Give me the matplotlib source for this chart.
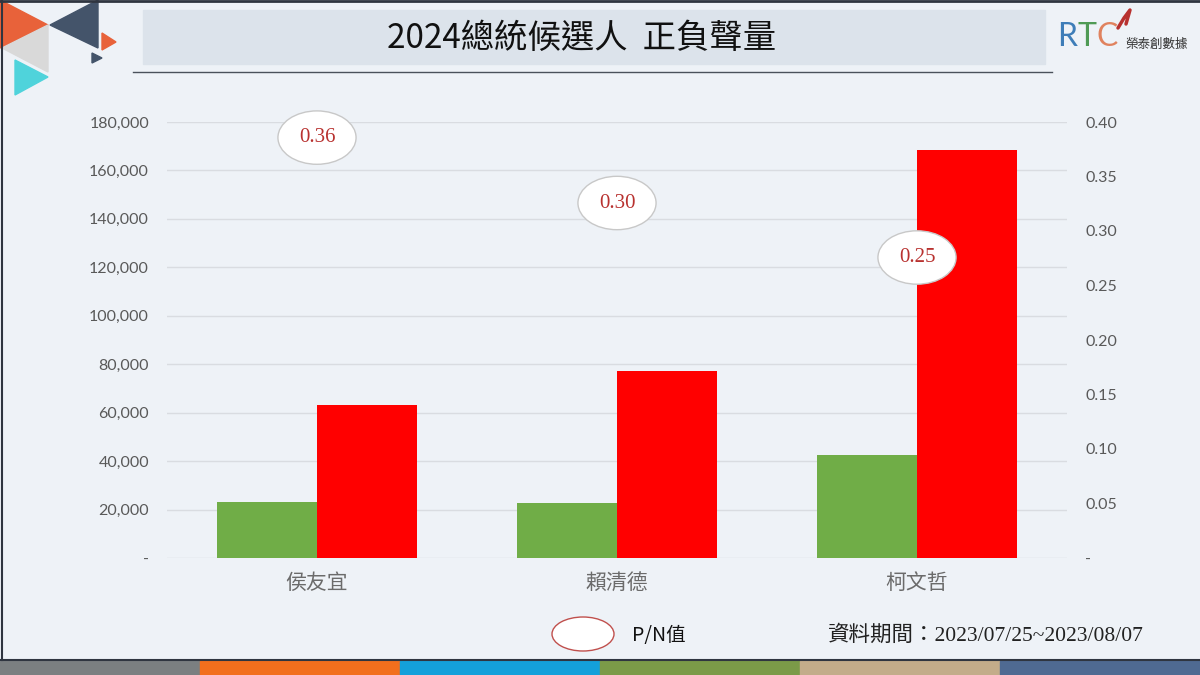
import numpy as np
import matplotlib.pyplot as plt
from matplotlib.patches import Rectangle, Polygon, Ellipse
from matplotlib.ticker import FuncFormatter

# --- data ---
candidates = ['侯友宜', '賴清德', '柯文哲']
positive = [23100, 22700, 42500]
negative = [63200, 77200, 168400]
pn_ratio = [0.36, 0.30, 0.25]

BG = '#EEF2F7'
CJK = ['Noto Sans CJK TC', 'DejaVu Sans']

fig = plt.figure(figsize=(12, 6.75), dpi=100, facecolor=BG)

# --- chart ---
ax = fig.add_axes([167/1200, 1-558/675, 900/1200, 436/675])
ax.set_facecolor('none')
x = np.arange(len(candidates))
w = 1/3
ax.bar(x - w/2, positive, w, color='#70AD47', zorder=3)
ax.bar(x + w/2, negative, w, color='#FF0000', zorder=3)
ax.set_xlim(-0.5, 2.5)
ax.set_ylim(0, 180000)
ax.set_yticks(np.arange(0, 180001, 20000))
ax.yaxis.set_major_formatter(FuncFormatter(lambda v, p: '-' if v == 0 else f'{v:,.0f}'))
ax.grid(axis='y', color='#D9DCE1', lw=1, zorder=0)
for s in ax.spines.values():
    s.set_visible(False)
ax.tick_params(axis='y', length=0, pad=13, labelsize=11.5, labelcolor='#595959')
ax.set_xticks(x)
ax.set_xticklabels(candidates, family=CJK, fontsize=15, color='#6B6B6B', weight='light')
ax.tick_params(axis='x', length=0, pad=10)
for t in ax.get_yticklabels():
    t.set_family('Lato')

ax2 = ax.twinx()
ax2.set_ylim(0, 0.40)
ax2.set_yticks(np.arange(0, 0.401, 0.05))
ax2.yaxis.set_major_formatter(FuncFormatter(lambda v, p: '-' if abs(v) < 1e-9 else f'{v:.2f}'))
ax2.tick_params(axis='y', length=0, pad=13, labelsize=11.5, labelcolor='#595959')
for t in ax2.get_yticklabels():
    t.set_family('Lato')
for s in ax2.spines.values():
    s.set_visible(False)
ax2.plot(x, pn_ratio, lw=0)
for xi, v in zip(x, pn_ratio):
    ax2.annotate(f'{v:.2f}', (xi, v), xytext=(0, 28), textcoords='offset pixels',
                 ha='center', va='center', fontsize=15, family='Liberation Serif',
                 color='#B8312F', zorder=5,
                 bbox=dict(boxstyle='ellipse,pad=0.45', fc='white', ec='#C8C8C8', lw=1))

# --- decorations in pixel space ---
deco = fig.add_axes([0, 0, 1, 1], zorder=-1)
deco.set_xlim(0, 1200)
deco.set_ylim(675, 0)
deco.axis('off')
deco.set_facecolor('none')

# title box
deco.add_patch(Rectangle((143, 10), 902, 54, color='#DCE3EB'))
deco.plot([133, 1052], [72, 72], color='#4A515B', lw=1)
fig.text(582/1200, 1-38/675, '2024總統候選人  正負聲量', family=CJK, fontsize=24,
         weight='light', ha='center', va='center', color='#111111')

# top-left triangles
tris = [
    ([(0, 0), (48, 25), (0, 48)], '#E8623A'),
    ([(98, 0), (50, 25), (98, 48)], '#44546A'),
    ([(2, 48), (48, 25), (48, 72)], '#D9D9D9'),
    ([(15, 60), (48, 77), (15, 95)], '#4FD3DB'),
    ([(102, 33), (116, 42), (102, 50)], '#E8623A'),
    ([(92, 53), (102, 58), (92, 63)], '#44546A'),
]
for pts, c in tris:
    deco.add_patch(Polygon(pts, closed=True, color=c))

# RTC logo
fig.text(1057/1200, 1-37/675, 'R', color='#3E7DB8', fontsize=23, family='Lato', va='center')
fig.text(1077/1200, 1-37/675, 'T', color='#4F9A55', fontsize=23, family='Lato', va='center')
fig.text(1097/1200, 1-37/675, 'C', color='#E0825E', fontsize=23, family='Lato', va='center')
deco.plot([1118, 1124, 1130, 1126], [28, 18, 10, 24], color='#B8312F', lw=2.5, solid_capstyle='round')
fig.text(1125/1200, 1-44/675, '榮泰創數據', color='#333333', fontsize=9, family=CJK, va='center')

# legend + note
deco.add_patch(Ellipse((583, 634), 62, 34, fc='white', ec='#C0504D', lw=1))
fig.text(632/1200, 1-635/675, 'P/N值', family=CJK, fontsize=14, va='center', color='#111111')
fig.text(828/1200, 1-636/675, '資料期間：2023/07/25~2023/08/07',
         family=['Liberation Serif', 'Noto Sans CJK TC'], fontsize=15.5, va='center', color='#222222')

# borders
deco.plot([0, 1200], [1, 1], color='#2F3540', lw=2)
deco.plot([1.5, 1.5], [0, 660], color='#2F3540', lw=1.5)
deco.plot([0, 1200], [660, 660], color='#2F3540', lw=1.5)

# bottom strips
strip_colors = ['#7B7F81', '#F26F1D', '#14A0DA', '#7B9A48', '#C3AC8A', '#4F6A92']
for i, c in enumerate(strip_colors):
    deco.add_patch(Rectangle((i*200, 661), 200, 14, color=c))

fig.savefig('out.png', dpi=100, facecolor=BG)
